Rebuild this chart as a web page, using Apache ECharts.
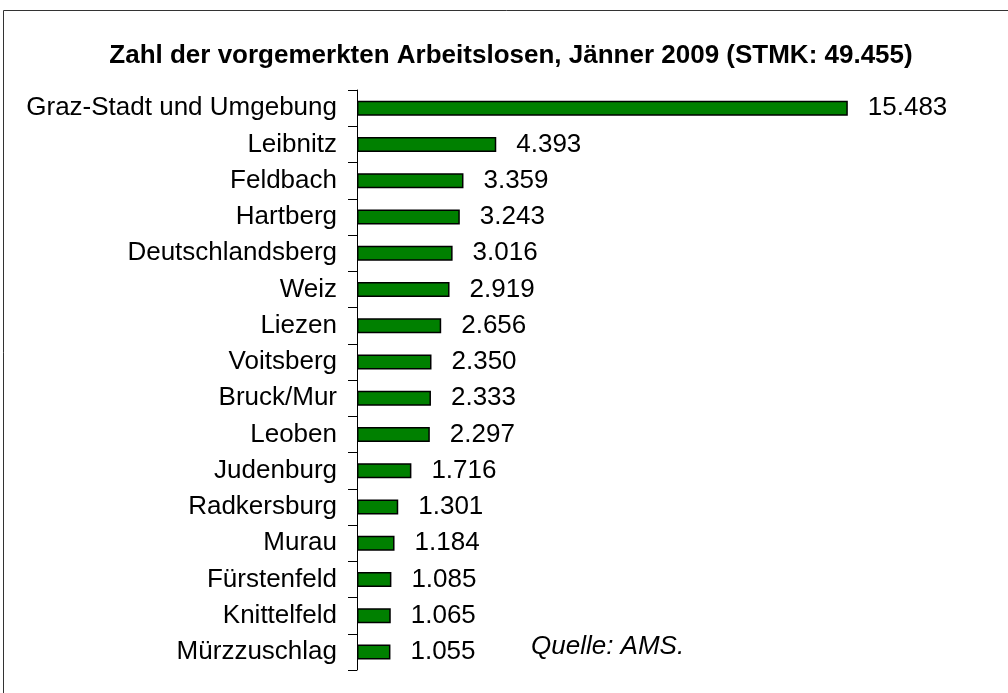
<!DOCTYPE html>
<html><head><meta charset="utf-8">
<script src="https://cdn.jsdelivr.net/npm/echarts@6/dist/echarts.min.js"></script>
<style>html,body{margin:0;padding:0;background:#fff}#c{width:1008px;height:693px}</style>
</head><body><div id="c"></div>
<script>
const categories = ["Graz-Stadt und Umgebung","Leibnitz","Feldbach","Hartberg","Deutschlandsberg","Weiz","Liezen","Voitsberg","Bruck/Mur","Leoben","Judenburg","Radkersburg","Murau","Fürstenfeld","Knittelfeld","Mürzzuschlag"];
const values = [15483,4393,3359,3243,3016,2919,2656,2350,2333,2297,1716,1301,1184,1085,1065,1055];
const titleText = "Zahl der vorgemerkten Arbeitslosen, Jänner 2009 (STMK: 49.455)";
const sourceText = "Quelle: AMS.";

function fmt(v){ return String(v).replace(/\B(?=(\d{3})+(?!\d))/g, "."); }

const chart = echarts.init(document.getElementById('c'));
chart.setOption({
  animation:false,
  backgroundColor:'#fff',
  title:{text:titleText,left:506,textAlign:'center',top:38,
    textStyle:{fontFamily:'Liberation Sans, Arial',fontWeight:'bold',fontSize:26,color:'#000'}},
  graphic:[
    {type:'rect',shape:{x:3.5,y:10.5,width:1020,height:720},style:{fill:'none',stroke:'#333',lineWidth:1},silent:true},
    {type:'text',left:531,top:634,style:{text:sourceText,font:'italic 26px "Liberation Sans", Arial',fill:'#000'}}
  ],
  grid:{left:357,right:17,top:90,bottom:23,containLabel:false},
  xAxis:{type:'value',min:0,max:20000,show:false},
  yAxis:{type:'category',data:categories,inverse:true,
    axisLine:{show:true,lineStyle:{color:'#000',width:1}},
    axisTick:{show:true,length:9,lineStyle:{color:'#000'}},
    axisLabel:{margin:20,color:'#000',fontSize:26,fontFamily:'Liberation Sans, Arial'}},
  series:[{type:'bar',data:values,barWidth:15,
    itemStyle:{color:'#008000',borderColor:'#000',borderWidth:1.5},
    label:{show:true,position:'right',distance:20,color:'#000',fontSize:26,fontFamily:'Liberation Sans, Arial',
      formatter:p=>fmt(p.value)}}]
});
</script></body></html>
